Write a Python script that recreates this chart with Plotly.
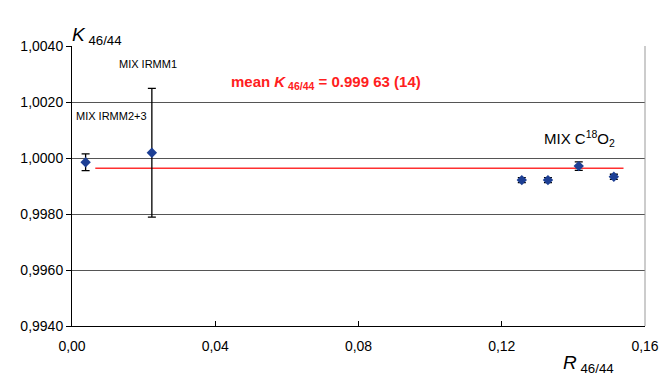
import plotly.graph_objects as go

# Data
r_values = [0.0038, 0.0223, 0.1256, 0.1329, 0.1415, 0.1513]
k_values = [0.99985, 1.00019, 0.99921, 0.99921, 0.99971, 0.99933]
k_err = [0.00030, 0.00230, 0.00009, 0.00009, 0.00015, 0.00009]
mean_k = 0.99963
mean_x = [0.0065, 0.1540]
y_ticks = [0.9940, 0.9960, 0.9980, 1.0000, 1.0020, 1.0040]
y_tick_labels = ["0,9940", "0,9960", "0,9980", "1,0000", "1,0020", "1,0040"]
x_ticks = [0.00, 0.04, 0.08, 0.12, 0.16]
x_tick_labels = ["0,00", "0,04", "0,08", "0,12", "0,16"]

FONT = "Liberation Sans, Arial, sans-serif"

fig = go.Figure()
fig.add_trace(go.Scatter(
    x=mean_x, y=[mean_k, mean_k], mode="lines",
    line=dict(color="#ff3030", width=1.5), showlegend=False, hoverinfo="skip"))
fig.add_trace(go.Scatter(
    x=r_values, y=k_values, mode="markers",
    marker=dict(symbol="diamond", size=8, color="#1d3f94"),
    error_y=dict(type="data", array=k_err, color="black", thickness=1.3, width=4),
    showlegend=False))

fig.update_xaxes(range=[0, 0.16], tickvals=x_ticks, ticktext=x_tick_labels,
                 showgrid=False, showline=True, linecolor="black", linewidth=1,
                 ticks="inside", ticklen=5, tickcolor="black", ticklabelstandoff=7,
                 tickfont=dict(family=FONT, size=14, color="black"), zeroline=False)
fig.update_yaxes(range=[0.9940, 1.0040], tickvals=y_ticks, ticktext=y_tick_labels,
                 showgrid=True, gridcolor="#555555", gridwidth=1,
                 showline=True, linecolor="black", linewidth=1,
                 ticks="outside", ticklen=5, tickcolor="black",
                 tickfont=dict(family=FONT, size=14, color="black"), zeroline=False)

fig.add_shape(type="line", xref="paper", yref="paper", x0=1, x1=1, y0=0, y1=1,
              line=dict(color="#999999", width=1))

annots = [
    dict(x=-0.003, y=1.086, text="<i>K</i><sub> 46/44</sub>", size=19, color="black", xref="paper", yref="paper", xanchor="left"),
    dict(x=0.853, y=-0.185, text="<i>R</i><sub> 46/44</sub>", size=19, color="black", xref="paper", yref="paper", xanchor="left"),
    dict(x=0.0211, y=1.00336, text="MIX IRMM1", size=11, color="black", xref="x", yref="y", xanchor="center"),
    dict(x=0.0109, y=1.0015, text="MIX IRMM2+3", size=11, color="black", xref="x", yref="y", xanchor="center"),
    dict(x=0.1417, y=1.0007, text="MIX C<sup>18</sup>O<sub>2</sub>", size=15, color="black", xref="x", yref="y", xanchor="center"),
    dict(x=0.0710, y=1.00268, text="<b>mean <i>K</i><sub> 46/44</sub> = 0.999 63 (14)</b>", size=15, color="#ff2020", xref="x", yref="y", xanchor="center"),
]
for a in annots:
    fig.add_annotation(x=a["x"], y=a["y"], xref=a["xref"], yref=a["yref"], text=a["text"],
                       xanchor=a["xanchor"], showarrow=False,
                       font=dict(family=FONT, size=a["size"], color=a["color"]))

fig.update_layout(width=663, height=375, paper_bgcolor="white", plot_bgcolor="white",
                  margin=dict(l=62, r=16, t=38, b=57), font=dict(family=FONT))
fig.write_html("out.html")
